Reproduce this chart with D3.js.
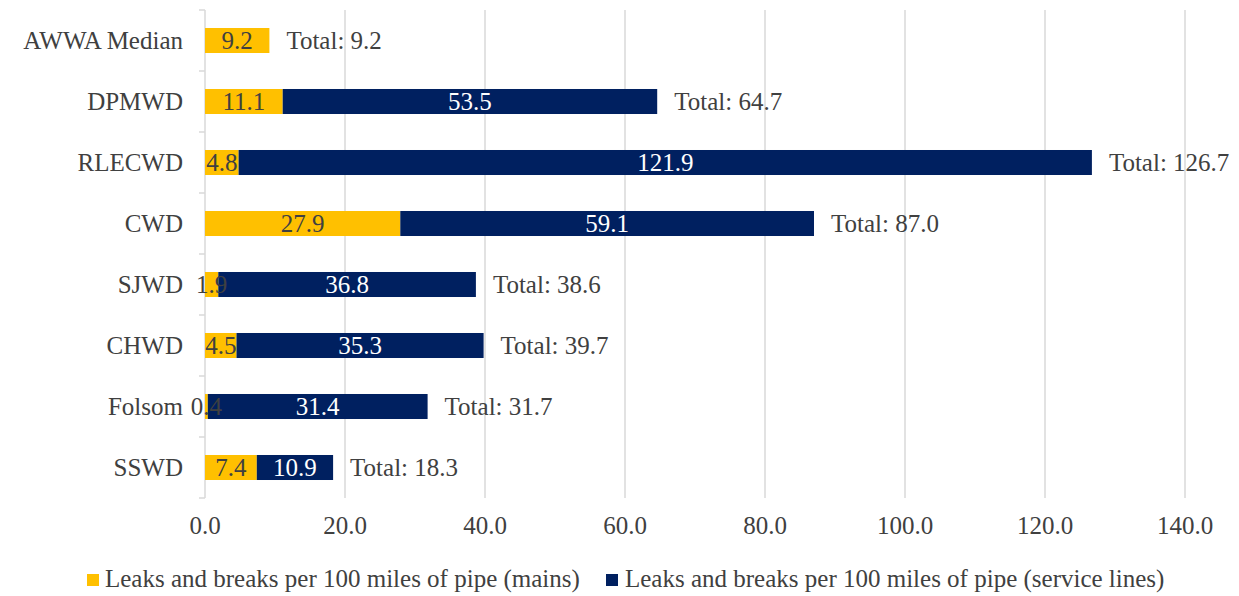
<!DOCTYPE html>
<html><head><meta charset="utf-8">
<script src="https://cdn.jsdelivr.net/npm/d3@7"></script>
<style>body{margin:0;background:#fff;} svg{display:block;} svg text{font-family:"Liberation Serif","DejaVu Serif",serif;}</style>
</head><body>
<script>
const categories = ["AWWA Median","DPMWD","RLECWD","CWD","SJWD","CHWD","Folsom","SSWD"];
const mains = [9.2, 11.1, 4.8, 27.9, 1.9, 4.5, 0.4, 7.4];
const serviceLines = [null, 53.5, 121.9, 59.1, 36.8, 35.3, 31.4, 10.9];
const totals = [9.2, 64.7, 126.7, 87.0, 38.6, 39.7, 31.7, 18.3];
const xTicks = [0,20,40,60,80,100,120,140];
const seriesNames = ["Leaks and breaks per 100 miles of pipe (mains)","Leaks and breaks per 100 miles of pipe (service lines)"];
const colors = ["#FFC000","#002060"];

const W=1239,H=596;
const fs = 25;
const textCol = "#404040";
const svg = d3.select("body").append("svg").attr("width",W).attr("height",H);
const x = d3.scaleLinear().domain([0,140]).range([205,1185]);
const y = d3.scaleBand().domain(categories).range([10,498]).paddingInner(0.59).paddingOuter(0.295);
const yb = d3.scaleBand().domain(categories).range([10,498]);

svg.append("g").selectAll("line").data(xTicks.slice(1)).join("line")
  .attr("x1",d=>x(d)).attr("x2",d=>x(d)).attr("y1",10).attr("y2",498)
  .attr("stroke","#d9d9d9").attr("stroke-width",1.5);
svg.append("line").attr("x1",x(0)).attr("x2",x(0)).attr("y1",10).attr("y2",498).attr("stroke","#d9d9d9").attr("stroke-width",1.5);
const bounds = categories.map(c=>yb(c)).concat([498]);
svg.append("g").selectAll("line").data(bounds).join("line")
  .attr("x1",x(0)-6).attr("x2",x(0)).attr("y1",d=>d).attr("y2",d=>d)
  .attr("stroke","#d9d9d9").attr("stroke-width",1.5);

const rows = categories.map((c,i)=>({c, m:mains[i], s:serviceLines[i], t:totals[i]}));
const g = svg.append("g");
g.selectAll("rect.m").data(rows).join("rect").attr("class","m")
  .attr("x",x(0)).attr("y",d=>y(d.c)).attr("width",d=>x(d.m)-x(0)).attr("height",y.bandwidth())
  .attr("fill",colors[0]);
g.selectAll("rect.s").data(rows.filter(d=>d.s!=null)).join("rect").attr("class","s")
  .attr("x",d=>x(d.m)).attr("y",d=>y(d.c)).attr("width",d=>x(d.m+d.s)-x(d.m)).attr("height",y.bandwidth())
  .attr("fill",colors[1]);
const ty = d=>y(d.c)+y.bandwidth()/2;
g.selectAll("text.ml").data(rows).join("text").attr("class","ml")
  .attr("x",d=>(x(0)+x(d.m))/2).attr("y",ty).attr("dy","0.35em").attr("text-anchor","middle")
  .attr("font-size",fs).attr("fill",textCol).text(d=>d.m.toFixed(1));
g.selectAll("text.sl").data(rows.filter(d=>d.s!=null)).join("text").attr("class","sl")
  .attr("x",d=>(x(d.m)+x(d.m+d.s))/2).attr("y",ty).attr("dy","0.35em").attr("text-anchor","middle")
  .attr("font-size",fs).attr("fill","#fff").text(d=>d.s.toFixed(1));
g.selectAll("text.tl").data(rows).join("text").attr("class","tl")
  .attr("x",d=>x(d.m+(d.s||0))+17).attr("y",ty).attr("dy","0.35em")
  .attr("font-size",fs).attr("fill",textCol).text(d=>"Total: "+d.t.toFixed(1));
svg.append("g").selectAll("text").data(categories).join("text")
  .attr("x",183).attr("y",d=>y(d)+y.bandwidth()/2).attr("dy","0.35em").attr("text-anchor","end")
  .attr("font-size",fs).attr("fill",textCol).text(d=>d);
svg.append("g").selectAll("text").data(xTicks).join("text")
  .attr("x",d=>x(d)).attr("y",525).attr("dy","0.35em").attr("text-anchor","middle")
  .attr("font-size",fs).attr("fill",textCol).text(d=>d.toFixed(1));
const leg = [{x:87,tx:105},{x:606,tx:625}];
leg.forEach((l,i)=>{
  svg.append("rect").attr("x",l.x).attr("y",574).attr("width",12).attr("height",12).attr("fill",colors[i]);
  svg.append("text").attr("x",l.tx).attr("y",578).attr("dy","0.35em")
    .attr("font-size",fs).attr("fill",textCol).text(seriesNames[i]);
});
</script>
</body></html>
